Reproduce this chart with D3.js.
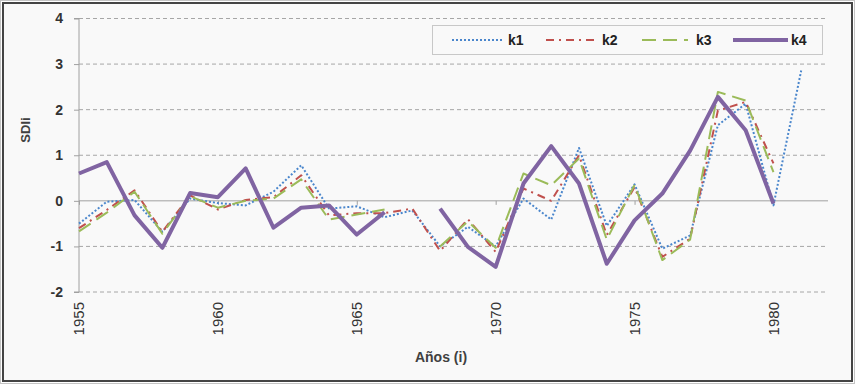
<!DOCTYPE html>
<html><head><meta charset="utf-8">
<script src="https://cdn.jsdelivr.net/npm/d3@7"></script>
<style>body{margin:0;background:#fff}svg{display:block}</style>
</head><body>
<svg id="c" width="855" height="384"></svg>
<script>
const years = d3.range(1955, 1982);
const k1 = [-0.5, -0.02, 0.02, -0.68, 0.05, -0.05, -0.1, 0.2, 0.78, -0.17, -0.12, -0.36, -0.21, -1.0, -0.57, -1.0, 0.05, -0.41, 1.16, -0.55, 0.36, -1.05, -0.76, 1.66, 2.13, -0.1, 2.86];
const k2 = [-0.6, -0.2, 0.23, -0.68, 0.12, -0.19, 0.02, 0.08, 0.56, -0.32, -0.27, -0.27, -0.17, -1.1, -0.4, -1.12, 0.27, 0.0, 1.0, -0.75, 0.3, -1.23, -0.83, 1.98, 2.17, 0.82, null];
const k3 = [-0.67, -0.26, 0.2, -0.72, 0.1, -0.15, 0.0, 0.05, 0.47, -0.41, -0.3, -0.19, null, -1.0, -0.45, -1.03, 0.6, 0.34, 0.93, -0.85, 0.35, -1.3, -0.85, 2.39, 2.2, 0.63, null];
const k4 = [0.6, 0.85, -0.32, -1.03, 0.17, 0.08, 0.71, -0.59, -0.15, -0.1, -0.74, -0.25, null, -0.17, -1.01, -1.45, 0.38, 1.2, 0.38, -1.38, -0.43, 0.16, 1.1, 2.28, 1.55, -0.06, null];
const xTicks = [1955, 1960, 1965, 1970, 1975, 1980];
const yTicks = [-2, -1, 0, 1, 2, 3, 4];
const seriesNames = ["k1", "k2", "k3", "k4"];

const series = [
  {name: "k1", values: k1, color: "#4a86cc", width: 2, dash: "2,2"},
  {name: "k2", values: k2, color: "#c0504d", width: 2, dash: "8,5,2,5"},
  {name: "k3", values: k3, color: "#9bbb59", width: 2, dash: "14,7"},
  {name: "k4", values: k4, color: "#8064a2", width: 4, dash: null}
];

const svg = d3.select("#c");
// frame
svg.append("rect").attr("x",0.5).attr("y",0.5).attr("width",854).attr("height",383)
  .attr("fill","#fff").attr("stroke","#888").attr("stroke-dasharray","1,1").attr("stroke-width",1);
svg.append("rect").attr("x",3).attr("y",3).attr("width",849).attr("height",378)
  .attr("fill","#f9f9f9").attr("stroke","#444").attr("stroke-width",2);

const x = d3.scaleLinear().domain([1955, 1982]).range([79, 829]);
const y = d3.scaleLinear().domain([-2, 4]).range([292, 18.5]);
const font = "'Liberation Sans', Arial, sans-serif";
const fmt = d => String(d);

// gridlines
svg.append("g").selectAll("line").data(yTicks.filter(d => d !== 0)).join("line")
  .attr("x1", x(1955)).attr("x2", 826).attr("y1", d => y(d)).attr("y2", d => y(d))
  .attr("stroke","#a6a6a6").attr("stroke-width",1).attr("stroke-dasharray","4,3");

// y axis
const yAxis = svg.append("g").attr("transform", `translate(${x(1955)},0)`)
  .call(d3.axisLeft(y).tickValues(yTicks).tickSize(5).tickFormat(fmt));
yAxis.select(".domain").attr("stroke","#a0a0a0").attr("d", `M-5,${y(4)}H0V${y(-2)}H-5`);
yAxis.selectAll(".tick line").attr("stroke","#a0a0a0");
yAxis.selectAll(".tick text").attr("font-family", font).attr("font-size", 14).attr("font-weight","bold")
  .attr("fill","#333").attr("x", -16);

// x axis on zero line
const xAxis = svg.append("g").attr("transform", `translate(0,${y(0)})`)
  .call(d3.axisBottom(x).tickValues(xTicks).tickSize(4).tickFormat(fmt));
xAxis.select(".domain").attr("stroke","#a0a0a0").attr("d", `M${x(1955)},0H828`);
xAxis.selectAll(".tick line").attr("stroke","#a0a0a0");
xAxis.selectAll(".tick text").remove();

// x tick labels at bottom
svg.append("g").selectAll("text").data(xTicks).join("text")
  .attr("transform", d => `translate(${x(d)},302) rotate(-90)`)
  .attr("text-anchor","end").attr("dy","0.36em")
  .attr("font-family", font).attr("font-size", 15).attr("fill","#333")
  .text(fmt);

// lines
series.forEach(s => {
  const line = d3.line().defined(d => d[1] !== null)
    .x(d => x(d[0])).y(d => y(d[1]));
  svg.append("path").datum(years.map((yr, i) => [yr, s.values[i] === undefined ? null : s.values[i]]))
    .attr("d", line).attr("fill","none").attr("stroke", s.color).attr("stroke-width", s.width)
    .attr("stroke-dasharray", s.dash).attr("stroke-linejoin","round");
});

// axis titles
svg.append("text").attr("transform","translate(30,130) rotate(-90)").attr("text-anchor","middle")
  .attr("font-family", font).attr("font-size", 13).attr("font-weight","bold").attr("fill","#404040")
  .text("SDIi");
svg.append("text").attr("x", 441).attr("y", 362).attr("text-anchor","middle")
  .attr("font-family", font).attr("font-size", 14).attr("font-weight","bold").attr("fill","#404040")
  .text("Años (i)");

// legend
const lg = svg.append("g");
lg.append("rect").attr("x",432.5).attr("y",25.5).attr("width",390).attr("height",29)
  .attr("fill","#f9f9f9").attr("stroke","#c8c8c8");
const legendPos = [{x1:452,x2:503,tx:508},{x1:546,x2:594,tx:602},{x1:642,x2:688,tx:696},{x1:733,x2:788,tx:791}];
series.forEach((s, i) => {
  const p = legendPos[i];
  lg.append("line").attr("x1",p.x1).attr("x2",p.x2).attr("y1",40).attr("y2",40)
    .attr("stroke", s.color).attr("stroke-width", s.width).attr("stroke-dasharray", s.dash);
  lg.append("text").attr("x",p.tx).attr("y",40).attr("dy","0.36em")
    .attr("font-family", font).attr("font-size", 14).attr("font-weight","bold").attr("fill","#222")
    .text(seriesNames[i]);
});
</script>
</body></html>
